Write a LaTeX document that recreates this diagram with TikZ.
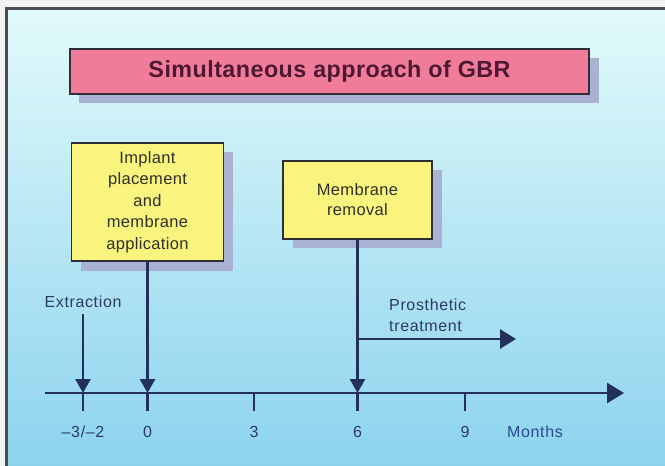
\documentclass[tikz,border=0pt]{standalone}
\usepackage{fontspec}
\setmainfont{Liberation Sans}
\newfontfamily\labfont[LetterSpace=4]{Liberation Sans}
\newfontfamily\boxfont[LetterSpace=2]{Liberation Sans}
\newfontfamily\ttlfont[LetterSpace=2]{Liberation Sans}
\usetikzlibrary{arrows.meta,shadows}
\definecolor{bgtop}{HTML}{E2FAFA}
\definecolor{bgbot}{HTML}{8CD3EE}
\definecolor{bordc}{HTML}{4A4C58}
\definecolor{outc}{HTML}{F2F4F4}
\definecolor{pinkc}{HTML}{F07C99}
\definecolor{yelc}{HTML}{F8F47E}
\definecolor{shadc}{HTML}{A9B2D2}
\definecolor{edgec}{HTML}{2E2E38}
\definecolor{titlec}{HTML}{4E1832}
\definecolor{boxtc}{HTML}{303028}
\definecolor{linec}{HTML}{22305A}
\definecolor{labc}{HTML}{2C3A66}
\definecolor{monc}{HTML}{2A4894}
\begin{document}
\begin{tikzpicture}[x=1bp,y=1bp,
  boxshadow/.style={drop shadow={shadow xshift=9.5bp,shadow yshift=-9.5bp,fill=shadc,opacity=1}},
  titlebox/.style={draw=edgec,line width=1.2bp,fill=pinkc,minimum width=519bp,minimum height=45bp,inner sep=0pt,boxshadow,text=titlec,font=\ttlfont\bfseries\fontsize{23.3bp}{26bp}\selectfont},
  stagebox/.style={draw=edgec,line width=1.2bp,fill=yelc,inner sep=0pt,boxshadow,align=center,text=boxtc},
  lab/.style={text=labc,font=\labfont\fontsize{16bp}{21bp}\selectfont,inner sep=1bp},
  arr/.style={line width=2.6bp,draw=linec,-{Triangle[length=14bp,width=15bp]}},
  harr/.style={line width=2.8bp,draw=linec,-{Triangle[length=17bp,width=20bp]}},
  tickline/.style={line width=2.4bp,draw=linec}
]
\useasboundingbox (0,0) rectangle (665,-466);
\fill[outc] (0,0) rectangle (665,-466);
\shade[top color=bgtop,bottom color=bgbot] (6,-9) rectangle (665,-466);
\draw[bordc,line width=3bp] (6,-466) -- (6,-9) -- (665,-9);

% title
\node[titlebox] (title) at (329.5,-71.5) {Simultaneous approach of GBR};

% stage boxes
\node[stagebox,minimum width=152bp,minimum height=118bp,font=\boxfont\fontsize{16.5bp}{21.5bp}\selectfont] (b1) at (147.5,-202) {Implant\\placement\\and\\membrane\\application};
\node[stagebox,minimum width=149bp,minimum height=78bp,font=\boxfont\fontsize{16.5bp}{20bp}\selectfont] (b2) at (357.5,-200) {Membrane\\removal};

% axis coordinates
\coordinate (a0) at (45,-393);
\coordinate (a1) at (624,-393);
\coordinate (tm) at (83,-393);
\coordinate (t0) at (147.5,-393);
\coordinate (t3) at (254,-393);
\coordinate (t6) at (357.5,-393);
\coordinate (t9) at (465,-393);

% ticks
\foreach \t in {tm,t0,t3,t6,t9} \draw[tickline] (\t) -- ++(0,-18);

% axis
\draw[harr] (a0) -- (a1);

% tick labels
\node[lab] (lm) at (83,-432) {–3/–2};
\node[lab] (l0) at (147.5,-432) {0};
\node[lab] (l3) at (254,-432) {3};
\node[lab] (l6) at (357.5,-432) {6};
\node[lab] (l9) at (465,-432) {9};
\node[lab,text=monc] (mon) at (535,-432) {Months};

% extraction
\node[lab] (ext) at (83,-302) {Extraction};
\draw[arr] ([yshift=-5bp]ext.south) -- (tm);

% box arrows
\draw[arr] (b1) -- (t0);
\draw[arr] (b2) -- (t6);

% prosthetic
\node[lab,anchor=west,align=left] (pros) at (388,-315.5) {Prosthetic\\treatment};
\coordinate (p0) at (357.5,-339);
\coordinate (p1) at (516,-339);
\draw[harr,-{Triangle[length=16bp,width=19bp]}] (p0) -- (p1);
\end{tikzpicture}
\end{document}
